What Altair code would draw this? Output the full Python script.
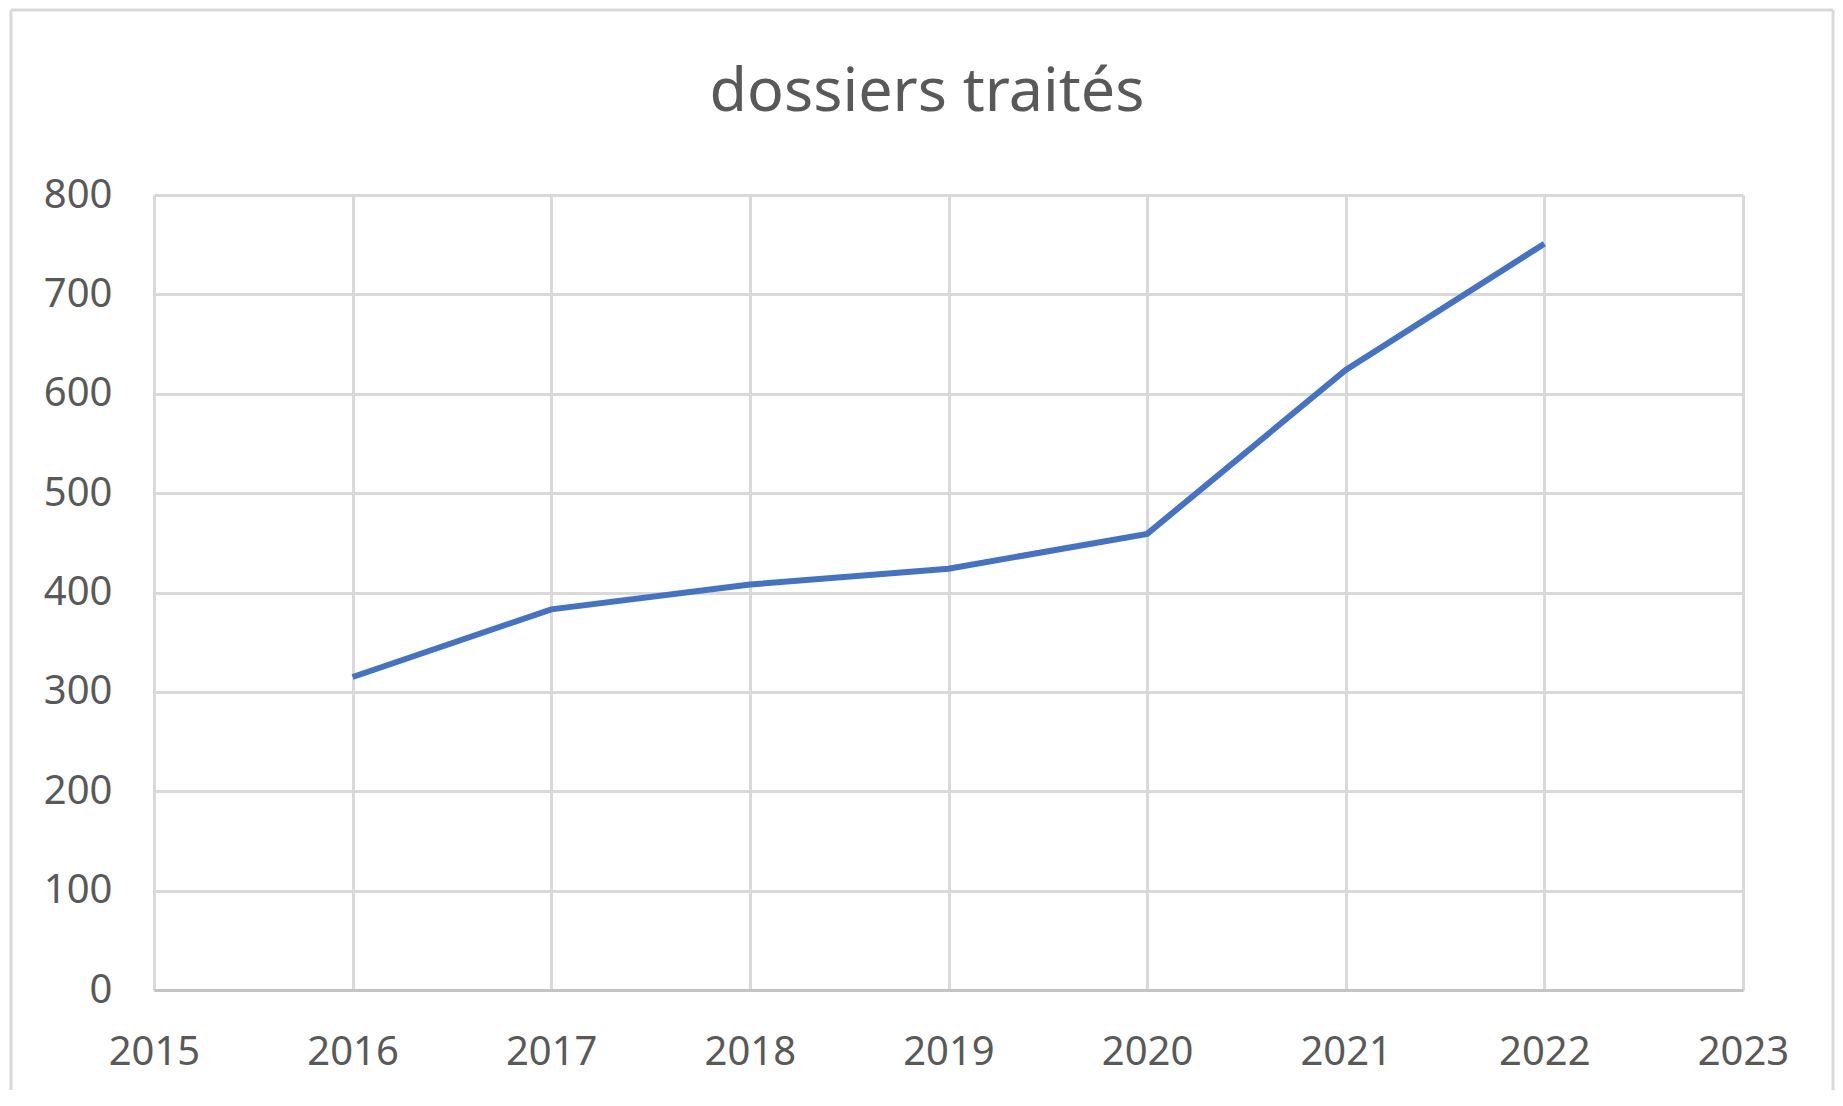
import altair as alt
import pandas as pd

years = [2016, 2017, 2018, 2019, 2020, 2021, 2022]
dossiers = [315, 383, 408, 424, 459, 624, 751]
x_ticks = [2015, 2016, 2017, 2018, 2019, 2020, 2021, 2022, 2023]
y_ticks = [0, 100, 200, 300, 400, 500, 600, 700, 800]
title_text = "dossiers traités"

W, H = 1589, 795
PAD_L, PAD_T, PAD_R, PAD_B = 146, 187, 92, 100
FONT = "Noto Sans"
TXT = "#595959"
GRID = "#d9d9d9"

df = pd.DataFrame({"annee": years, "dossiers": dossiers})
one = pd.DataFrame({"k": [0]})

line = alt.Chart(df).mark_line(color="#4472C4", strokeWidth=6).encode(
    x=alt.X(
        "annee:Q",
        scale=alt.Scale(domain=[x_ticks[0], x_ticks[-1]], nice=False, zero=False),
        axis=alt.Axis(
            values=x_ticks, format="d", title=None, grid=True, gridColor=GRID,
            gridWidth=3, domain=True, domainColor="#c4c4c4", domainWidth=3,
            ticks=False, labelPadding=42, labelFontSize=40, labelColor=TXT,
            labelFont=FONT, labelFlush=False, labelOverlap=False,
        ),
    ),
    y=alt.Y(
        "dossiers:Q",
        scale=alt.Scale(domain=[y_ticks[0], y_ticks[-1]], nice=False),
        axis=alt.Axis(
            values=y_ticks, title=None, grid=True, gridColor=GRID, gridWidth=3,
            domain=False, ticks=False, labelPadding=42, labelFontSize=40,
            labelColor=TXT, labelFont=FONT, labelOverlap=False,
        ),
    ),
)

title = alt.Chart(one).mark_text(
    text=title_text, font=FONT, fontSize=61, color=TXT,
    align="center", baseline="alphabetic",
).encode(x=alt.value(773), y=alt.value(-84))

frame_top = alt.Chart(one).mark_rule(color=GRID, strokeWidth=3).encode(
    x=alt.value(-143), x2=alt.value(W + PAD_R - 2), y=alt.value(-185)
)
frame_left = alt.Chart(one).mark_rule(color=GRID, strokeWidth=3).encode(
    x=alt.value(-143), y=alt.value(-185), y2=alt.value(H + PAD_B)
)
frame_right = alt.Chart(one).mark_rule(color=GRID, strokeWidth=3).encode(
    x=alt.value(W + PAD_R - 2), y=alt.value(-185), y2=alt.value(H + PAD_B)
)

chart = alt.layer(frame_top, frame_left, frame_right, line, title).properties(
    width=W,
    height=H,
    autosize=alt.AutoSizeParams(type="none"),
    padding={"left": PAD_L, "top": PAD_T, "right": PAD_R, "bottom": PAD_B},
    background="white",
).configure_view(strokeWidth=0)

chart.save("out.html", embed_options={"renderer": "svg", "actions": False})
